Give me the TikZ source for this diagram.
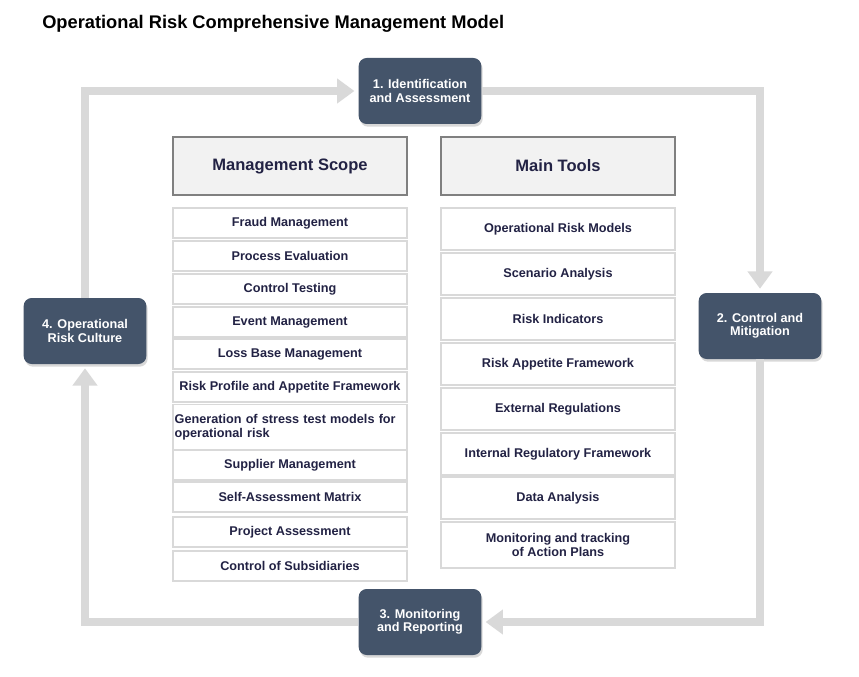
\documentclass[tikz,border=0pt]{standalone}
\usepackage{fontspec}
\setmainfont{Liberation Sans}
\usepackage{tikz}
\usetikzlibrary{arrows.meta, positioning, shadows}
\definecolor{phaseblue}{HTML}{44546A}
\definecolor{flowgray}{HTML}{D9D9D9}
\definecolor{headfill}{HTML}{F2F2F2}
\definecolor{headdraw}{HTML}{808080}
\definecolor{itemdraw}{HTML}{D9D9D9}
\definecolor{navytext}{HTML}{222244}
\tikzset{
  % Cycle phases
  phase/.style={
    rectangle, rounded corners=6pt, minimum width=92pt, minimum height=49.5pt,
    fill=phaseblue, draw=none, text=white, font=\fontsize{9.5}{10}\selectfont\bfseries,
    drop shadow={shadow xshift=1pt, shadow yshift=-2pt, opacity=0.3},
    align=center, inner sep=2pt,
  },
  % Column headers
  colhead/.style={
    rectangle, minimum width=175.5pt, minimum height=43.5pt,
    draw=headdraw, fill=headfill, text=navytext, line width=1.2pt,
    font=\fontsize{12.4}{14}\selectfont\bfseries,
  },
  % Column items
  item/.style={
    rectangle, minimum width=175.5pt, minimum height=#1,
    draw=itemdraw, fill=white, text=navytext, line width=1pt,
    font=\fontsize{9.5}{10.5}\selectfont\bfseries, align=center, inner sep=1pt,
  },
  item/.default={22.5pt},
  % Cycle arrows
  flow/.style={
    draw=flowgray, line width=6pt,
    -{Triangle[width=18pt, length=13pt]}, shorten >=3pt,
  },
}
\begin{document}
\begin{tikzpicture}[x=0.75pt, y=-0.75pt]
  \useasboundingbox[fill=white] (0,0) rectangle (859,677);

  % Title
  \node[anchor=west, font=\fontsize{13.7}{15}\selectfont\bfseries, inner sep=0pt]
    (title) at (42,24) {Operational Risk Comprehensive Management Model};

  % Phases
  \node[phase] (ident) at (420,91) {1. Identification\\and Assessment};
  \node[phase] (control) at (760,326) {2. Control and\\Mitigation};
  \node[phase] (monitor) at (420,622) {3. Monitoring\\and Reporting};
  \node[phase] (culture) at (85,331) {4. Operational\\Risk Culture};

  % Cycle
  \draw[flow] (culture.north) |- (ident.west);
  \draw[flow] (ident.east) -| (control.north);
  \draw[flow] (control.south) |- (monitor.east);
  \draw[flow] (monitor.west) -| (culture.south);

  % Management scope
  \node[colhead] (scope) at (290,166) {Management Scope};
  \node[item] (fraud) at (290,223) {Fraud Management};
  \node[item] (process) at (290,256) {Process Evaluation};
  \node[item] (testing) at (290,289) {Control Testing};
  \node[item] (event) at (290,322) {Event Management};
  \node[item] (loss) at (290,354) {Loss Base Management};
  \node[item] (profile) at (290,387) {Risk Profile and Appetite Framework};
  \node[item=33.75pt, align=left, text width=173pt] (stress) at (290,427)
    {Generation of stress test models for\\operational risk};
  \node[item] (supplier) at (290,465) {Supplier Management};
  \node[item] (selfassess) at (290,497) {Self-Assessment Matrix};
  \node[item] (project) at (290,532) {Project Assessment};
  \node[item] (subsid) at (290,566) {Control of Subsidiaries};

  % Main tools
  \node[colhead] (tools) at (558,166) {Main Tools};
  \node[item=31.5pt] (models) at (558,229) {Operational Risk Models};
  \node[item=31.5pt] (scenario) at (558,274) {Scenario Analysis};
  \node[item=31.5pt] (indicators) at (558,319) {Risk Indicators};
  \node[item=31.5pt] (appetite) at (558,364) {Risk Appetite Framework};
  \node[item=31.5pt] (external) at (558,409) {External Regulations};
  \node[item=31.5pt] (internal) at (558,454) {Internal Regulatory Framework};
  \node[item=31.5pt] (data) at (558,498) {Data Analysis};
  \node[item=34.5pt] (actions) at (558,545) {Monitoring and tracking\\of Action Plans};
\end{tikzpicture}
\end{document}
